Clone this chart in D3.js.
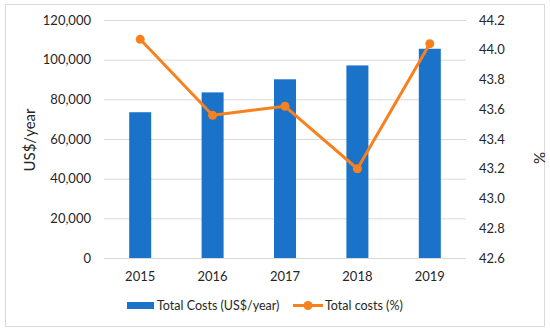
<!DOCTYPE html>
<html>
<head>
<meta charset="utf-8">
<script src="https://cdn.jsdelivr.net/npm/d3@7"></script>
<style>
  body { margin: 0; background: #fff; }
  svg { display: block; font-family: Lato, "Open Sans", sans-serif; }
</style>
</head>
<body>
<svg></svg>
<script>
var years = ["2015", "2016", "2017", "2018", "2019"];
var costs = [73500, 83500, 90100, 97100, 105500];
var costPct = [44.07, 43.56, 43.62, 43.20, 44.04];
var leftTicks = [0, 20000, 40000, 60000, 80000, 100000, 120000];
var rightTicks = [42.6, 42.8, 43.0, 43.2, 43.4, 43.6, 43.8, 44.0, 44.2];

var width = 550, height = 333;
var svg = d3.select("svg").attr("width", width).attr("height", height);

var plot = { left: 104, right: 466, top: 20, bottom: 258 };

svg.append("rect")
    .attr("x", 5.5).attr("y", 4.5)
    .attr("width", 539).attr("height", 322)
    .attr("fill", "#fff")
    .attr("stroke", "#d9d9d9");

var x = d3.scaleBand().domain(years).range([plot.left, plot.right]);
var yL = d3.scaleLinear().domain([0, 120000]).range([plot.bottom, plot.top]);
var yR = d3.scaleLinear().domain([42.6, 44.2]).range([plot.bottom, plot.top]);

// gridlines
svg.append("g")
    .selectAll("line")
    .data(leftTicks)
    .join("line")
    .attr("x1", plot.left).attr("x2", plot.right)
    .attr("y1", d => yL(d) + 0.5).attr("y2", d => yL(d) + 0.5)
    .attr("stroke", "#d9d9d9").attr("stroke-width", 1);

// axes text
var fmt = d3.format(",");
svg.append("g")
    .selectAll("text")
    .data(leftTicks)
    .join("text")
    .attr("x", 91).attr("y", d => yL(d))
    .attr("dy", "0.35em")
    .attr("text-anchor", "end")
    .attr("font-size", 13).attr("fill", "#262626")
    .text(d => fmt(d));

svg.append("g")
    .selectAll("text")
    .data(rightTicks)
    .join("text")
    .attr("x", 479).attr("y", d => yR(d))
    .attr("dy", "0.35em")
    .attr("font-size", 13).attr("fill", "#262626")
    .text(d => d.toFixed(1));

svg.append("g")
    .selectAll("text")
    .data(years)
    .join("text")
    .attr("x", d => x(d) + x.bandwidth() / 2).attr("y", 276)
    .attr("dy", "0.35em")
    .attr("text-anchor", "middle")
    .attr("font-size", 13).attr("fill", "#262626")
    .text(d => d);

svg.append("text")
    .attr("transform", "translate(30,140) rotate(-90)")
    .attr("dy", "0.35em")
    .attr("text-anchor", "middle")
    .attr("font-size", 15).attr("fill", "#262626")
    .text("US$/year");

svg.append("text")
    .attr("transform", "translate(540,158) rotate(-90)")
    .attr("dy", "0.35em")
    .attr("text-anchor", "middle")
    .attr("font-size", 15).attr("fill", "#262626")
    .text("%");

// bars
var barW = 22;
svg.append("g")
    .selectAll("rect")
    .data(years)
    .join("rect")
    .attr("x", d => x(d) + x.bandwidth() / 2 - barW / 2)
    .attr("y", (d, i) => yL(costs[i]))
    .attr("width", barW)
    .attr("height", (d, i) => plot.bottom - yL(costs[i]))
    .attr("fill", "#1a72c9");

// line
var line = d3.line()
    .x((d, i) => x(years[i]) + x.bandwidth() / 2)
    .y(d => yR(d));

svg.append("path")
    .datum(costPct)
    .attr("d", line)
    .attr("fill", "none")
    .attr("stroke", "#f7801f")
    .attr("stroke-width", 3)
    .attr("stroke-linejoin", "round");

svg.append("g")
    .selectAll("circle")
    .data(costPct)
    .join("circle")
    .attr("cx", (d, i) => x(years[i]) + x.bandwidth() / 2)
    .attr("cy", d => yR(d))
    .attr("r", 4.5)
    .attr("fill", "#f7801f");

// legend
var leg = svg.append("g").attr("font-size", 12.5).attr("fill", "#262626");
leg.append("rect")
    .attr("x", 127).attr("y", 302)
    .attr("width", 27).attr("height", 7)
    .attr("fill", "#1a72c9");
leg.append("text")
    .attr("x", 157).attr("y", 305.5).attr("dy", "0.35em")
    .text("Total Costs (US$/year)");
leg.append("line")
    .attr("x1", 293).attr("x2", 323)
    .attr("y1", 305.5).attr("y2", 305.5)
    .attr("stroke", "#f7801f").attr("stroke-width", 3);
leg.append("circle")
    .attr("cx", 308).attr("cy", 305.5).attr("r", 4.5)
    .attr("fill", "#f7801f");
leg.append("text")
    .attr("x", 325).attr("y", 305.5).attr("dy", "0.35em")
    .text("Total costs (%)");
</script>
</body>
</html>
